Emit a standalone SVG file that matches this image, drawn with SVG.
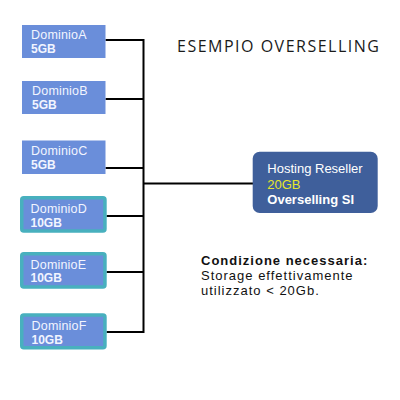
<svg xmlns="http://www.w3.org/2000/svg" width="400" height="400" viewBox="0 0 400 400">
<style>
.dom{fill:#6A8EDA;}
.domb{fill:#6A8EDA;stroke:#48B0BE;stroke-width:3.5;}
.name{font-family:"Liberation Sans",Arial,sans-serif;font-size:12.5px;fill:#F2F5FF;letter-spacing:0.2px;}
.size{font-family:"Liberation Sans",Arial,sans-serif;font-size:12px;font-weight:bold;fill:#F2F5FF;}
.wire{stroke:#000;stroke-width:2;fill:none;}
.host{font-family:"Liberation Sans",Arial,sans-serif;font-size:13px;fill:#FFFFFF;}
.note{font-family:"Liberation Sans",Arial,sans-serif;font-size:13px;fill:#111;letter-spacing:1px;}
</style>
<rect width="400" height="400" fill="#FFFFFF"/>
<g id="connectors">
<path class="wire" d="M105.5,40 H143.5 M105.5,99 H143.5 M105.5,168 H143.5 M106.5,216 H143.5 M106.5,272 H143.5 M106.5,332 H143.5 M143.5,39 V333 M143.5,183.5 H253"/>
</g>
<g id="dominioA">
<rect class="dom" x="22" y="25" width="83.5" height="33"/>
<text class="name" x="31" y="39">DominioA</text>
<text class="size" x="31" y="52.5">5GB</text>
</g>
<g id="dominioB">
<rect class="dom" x="22" y="81" width="83.5" height="33"/>
<text class="name" x="32" y="95">DominioB</text>
<text class="size" x="32" y="108.5">5GB</text>
</g>
<g id="dominioC">
<rect class="dom" x="22" y="140.5" width="83.5" height="33.5"/>
<text class="name" x="31" y="155">DominioC</text>
<text class="size" x="31" y="169">5GB</text>
</g>
<g id="dominioD">
<rect class="domb" x="21.75" y="197.75" width="83.2" height="33.2" rx="2"/>
<text class="name" x="30.5" y="213">DominioD</text>
<text class="size" x="30.5" y="226.5">10GB</text>
</g>
<g id="dominioE">
<rect class="domb" x="21.75" y="253.75" width="83.2" height="33.2" rx="2"/>
<text class="name" x="30.5" y="269">DominioE</text>
<text class="size" x="30.5" y="282">10GB</text>
</g>
<g id="dominioF">
<rect class="domb" x="21.75" y="315" width="83.2" height="32.7" rx="2"/>
<text class="name" x="31.5" y="330">DominioF</text>
<text class="size" x="31.5" y="344">10GB</text>
</g>
<g id="hosting">
<rect x="252.7" y="151.7" width="125" height="61.3" rx="7" fill="#3F5F9B"/>
<text class="host" x="267.3" y="173.3">Hosting Reseller</text>
<text class="host" x="267.3" y="189" style="fill:#E6E62A">20GB</text>
<text class="host" x="267.3" y="204" style="font-weight:bold">Overselling SI</text>
</g>
<text x="177" y="51.5" font-family="'Open Sans',sans-serif" font-size="16" letter-spacing="1.5" fill="#1A1A1A">ESEMPIO OVERSELLING</text>
<g id="note">
<text class="note" x="201" y="265" style="font-weight:bold">Condizione necessaria:</text>
<text class="note" x="201" y="280">Storage effettivamente</text>
<text class="note" x="201" y="295">utilizzato &lt; 20Gb.</text>
</g>
</svg>
